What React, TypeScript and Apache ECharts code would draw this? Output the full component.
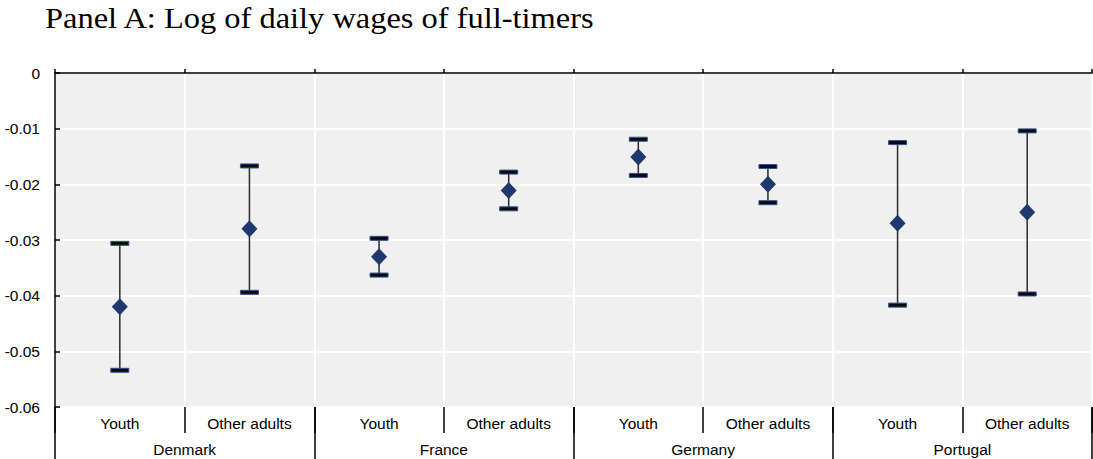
import React, { useEffect, useRef } from "react";
import * as echarts from "echarts";

const groups = ["Youth", "Other adults", "Youth", "Other adults", "Youth", "Other adults", "Youth", "Other adults"];
const countries = ["Denmark", "France", "Germany", "Portugal"];
const estimate = [-0.042, -0.028, -0.033, -0.0211, -0.0151, -0.02, -0.027, -0.025];
const upper = [-0.0306, -0.0167, -0.0297, -0.0178, -0.0119, -0.0168, -0.0125, -0.0104];
const lower = [-0.0534, -0.0394, -0.0363, -0.0244, -0.0184, -0.0233, -0.0417, -0.0397];
const yTicks = { min: -0.06, max: 0, interval: 0.01 };
const titleText = "Panel A: Log of daily wages of full-timers";

const FONT = "'Liberation Sans', Arial, sans-serif";

export default function App() {
  const ref = useRef<HTMLDivElement>(null);
  useEffect(() => {
    document.body.style.margin = "0";
    const chart = echarts.init(ref.current!, undefined, { renderer: "svg" });
    const errData = groups.map((_, i) => [i, lower[i], upper[i]]);
    chart.setOption({
      animation: false,
      backgroundColor: "#ffffff",
      graphic: [
        {
          type: "text",
          x: 45,
          y: 3,
          scaleX: 1.1,
          style: {
            text: titleText,
            fontFamily: "'Liberation Serif', 'Times New Roman', serif",
            fontSize: 29.5,
            fill: "#000",
            verticalAlign: "top",
          },
        },
      ],
      grid: { left: 55, right: 1, top: 73, bottom: 52, show: true, backgroundColor: "#f0f0f0", borderWidth: 0 },
      xAxis: [
        {
          type: "category",
          data: groups,
          position: "bottom",
          axisLine: { show: false, onZero: false },
          axisTick: { show: true, length: 26, lineStyle: { color: "#000", width: 1.5 } },
          axisLabel: { margin: 8, fontFamily: FONT, fontSize: 15.5, color: "#000" },
          splitLine: { show: true, lineStyle: { color: "#ffffff", width: 2 } },
        },
        {
          type: "category",
          data: countries,
          position: "bottom",
          axisLine: { show: false, onZero: false },
          axisTick: { show: true, length: 52, lineStyle: { color: "#000", width: 1.5 } },
          axisLabel: { margin: 34, fontFamily: FONT, fontSize: 15.5, color: "#000" },
          splitLine: { show: false },
        },
        {
          type: "category",
          data: groups,
          position: "top",
          axisLine: { show: true, onZero: false, lineStyle: { color: "#000", width: 1.5 } },
          axisTick: { show: true, length: 4, lineStyle: { color: "#000", width: 1.5 } },
          axisLabel: { show: false },
          splitLine: { show: false },
        },
      ],
      yAxis: {
        type: "value",
        min: yTicks.min,
        max: yTicks.max,
        interval: yTicks.interval,
        axisLine: { show: true, onZero: false, lineStyle: { color: "#000", width: 1.5 } },
        axisTick: { show: true, inside: true, length: 5, lineStyle: { color: "#000", width: 1.5 } },
        axisLabel: {
          margin: 15,
          fontFamily: FONT,
          fontSize: 15.5,
          color: "#000",
          formatter: (v: number) => (v === 0 ? "0" : String(Math.round(v * 100) / 100)),
        },
        splitLine: { show: true, lineStyle: { color: "#ffffff", width: 2 } },
      },
      series: [
        {
          type: "custom",
          xAxisIndex: 0,
          data: errData,
          z: 3,
          renderItem: (params: any, api: any) => {
            const x = api.value(0);
            const lo = api.coord([x, api.value(1)]);
            const hi = api.coord([x, api.value(2)]);
            const w = 18;
            const h = 4;
            return {
              type: "group",
              children: [
                { type: "line", shape: { x1: lo[0], y1: lo[1], x2: hi[0], y2: hi[1] }, style: { stroke: "#2b2b2b", lineWidth: 1.5 } },
                { type: "rect", shape: { x: hi[0] - w / 2, y: hi[1] - h / 2, width: w, height: h }, style: { fill: "#0a0a14", stroke: "#34508a", lineWidth: 1 } },
                { type: "rect", shape: { x: lo[0] - w / 2, y: lo[1] - h / 2, width: w, height: h }, style: { fill: "#0a0a14", stroke: "#34508a", lineWidth: 1 } },
              ],
            };
          },
        },
        {
          type: "scatter",
          xAxisIndex: 0,
          data: estimate,
          symbol: "diamond",
          symbolSize: [16, 17],
          itemStyle: { color: "#1f386d", opacity: 1 },
          z: 4,
        },
      ],
    });
    return () => chart.dispose();
  }, []);
  return <div ref={ref} style={{ position: "absolute", left: 0, top: 0, width: 1093, height: 459 }} />;
}
